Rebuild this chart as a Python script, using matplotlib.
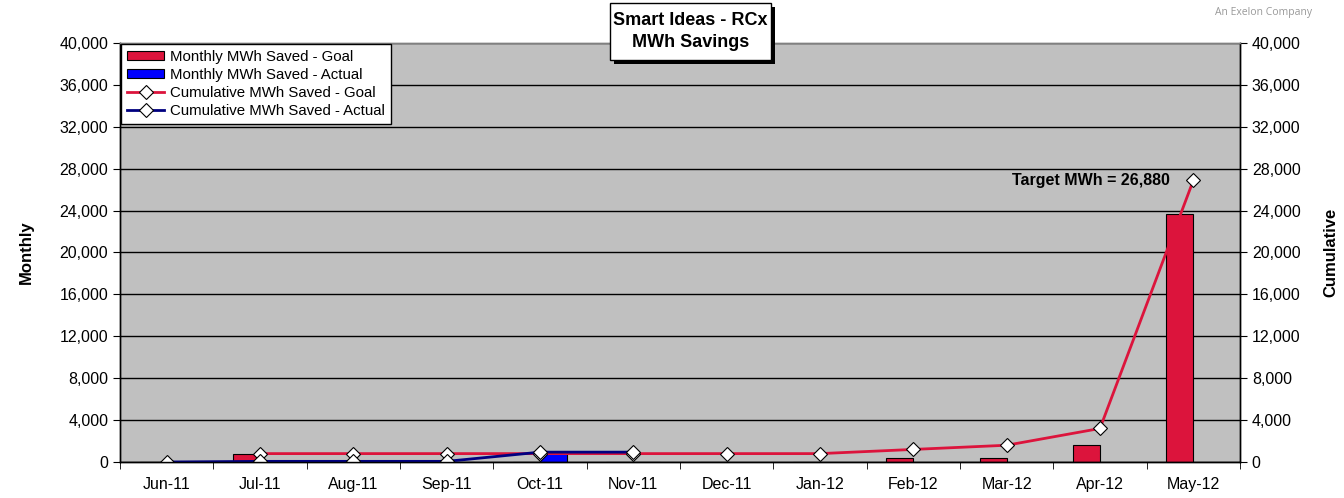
import numpy as np
import matplotlib.pyplot as plt
from matplotlib.ticker import FuncFormatter, MultipleLocator
from matplotlib.patches import Rectangle
import matplotlib.patheffects as pe

plt.rcParams['font.family'] = ['Liberation Sans', 'DejaVu Sans']

# monthly and cumulative MWh savings
months = ['Jun-11', 'Jul-11', 'Aug-11', 'Sep-11', 'Oct-11', 'Nov-11',
          'Dec-11', 'Jan-12', 'Feb-12', 'Mar-12', 'Apr-12', 'May-12']
monthly_goal = [0, 800, 0, 0, 0, 0, 0, 0, 400, 400, 1600, 23680]
monthly_actual = [0, 60, 0, 0, 880, 0]
cum_goal = [np.nan, 800, 800, 800, 800, 800, 800, 800, 1200, 1600, 3200, 26880]
cum_actual = [0, 60, 60, 60, 940, 940]

goal_red = '#DC143C'
actual_blue = '#0000FF'
cum_blue = '#000080'

fig = plt.figure(figsize=(13.44, 4.98), dpi=100)
ax = fig.add_axes([0.0893, 0.0723, 0.8333, 0.8414])
ax2 = ax.twinx()

x = np.arange(len(months))
bw = 0.29
ax.bar(x, monthly_goal, width=-bw, align='edge', color=goal_red,
       edgecolor='black', linewidth=0.8, label='Monthly MWh Saved - Goal')
ax.bar(x[:len(monthly_actual)], monthly_actual, width=bw, align='edge',
       color=actual_blue, edgecolor='black', linewidth=0.8,
       label='Monthly MWh Saved - Actual')

ax2.plot(x, cum_goal, color=goal_red, lw=2, marker='D', ms=7.5,
         mfc='white', mec='black', mew=0.8, label='Cumulative MWh Saved - Goal')
ax2.plot(x[:len(cum_actual)], cum_actual, color=cum_blue, lw=2, marker='D',
         ms=7.5, mfc='white', mec='black', mew=0.8,
         label='Cumulative MWh Saved - Actual')

fmt = FuncFormatter(lambda v, p: f'{int(v):,}')
for a in (ax, ax2):
    a.set_ylim(0, 40000)
    a.yaxis.set_major_locator(MultipleLocator(4000))
    a.yaxis.set_major_formatter(fmt)
    a.tick_params(axis='y', labelsize=11.5, length=5, direction='out')
    for s in a.spines.values():
        s.set_linewidth(1)

ax.set_xlim(-0.5, len(months) - 0.5)
ax.set_facecolor('#C0C0C0')
ax.set_axisbelow(True)
ax.grid(axis='y', color='black', lw=1)
ax.spines['top'].set_color('#808080')
ax2.spines['top'].set_color('#808080')

ax.set_xticks(x)
ax.set_xticklabels(months, fontsize=11.5)
ax.set_xticks(np.arange(-0.5, len(months)), minor=True)
ax.tick_params(axis='x', which='major', length=0, pad=11)
ax.tick_params(axis='x', which='minor', length=5, direction='out')

ax.set_ylabel('Monthly', fontsize=12, fontweight='bold', labelpad=18)
ax2.set_ylabel('Cumulative', fontsize=12, fontweight='bold', labelpad=16,
               rotation=90)

h1, l1 = ax.get_legend_handles_labels()
h2, l2 = ax2.get_legend_handles_labels()
leg = ax2.legend(h1 + h2, l1 + l2, loc='upper left', fontsize=10.8,
                 frameon=True, fancybox=False, edgecolor='black',
                 framealpha=1, borderaxespad=0.05, handlelength=2.5,
                 handleheight=0.55, labelspacing=0.28, borderpad=0.4,
                 handletextpad=0.4)
leg.get_frame().set_linewidth(1)

ax2.text(len(months) - 1.25, 26880, 'Target MWh = 26,880', ha='right',
         va='center', fontsize=11.5, fontweight='bold')

# title box with a drop shadow
box = Rectangle((0.4539, 0.8795), 0.1198, 0.1145, transform=fig.transFigure,
                fc='white', ec='black', lw=1, zorder=5,
                path_effects=[pe.withSimplePatchShadow(
                    offset=(3, -3), shadow_rgbFace='black', alpha=1)])
fig.add_artist(box)
fig.text(0.5136, 0.9367, 'Smart Ideas - RCx\nMWh Savings', ha='center',
         va='center', fontsize=13, fontweight='bold', linespacing=1.4,
         zorder=6)

fig.text(0.976, 0.975, 'An Exelon Company', ha='right', va='center',
         fontsize=7.5, color='#999999', family=['Open Sans', 'DejaVu Sans'])

fig.savefig('out.png', dpi=100)
